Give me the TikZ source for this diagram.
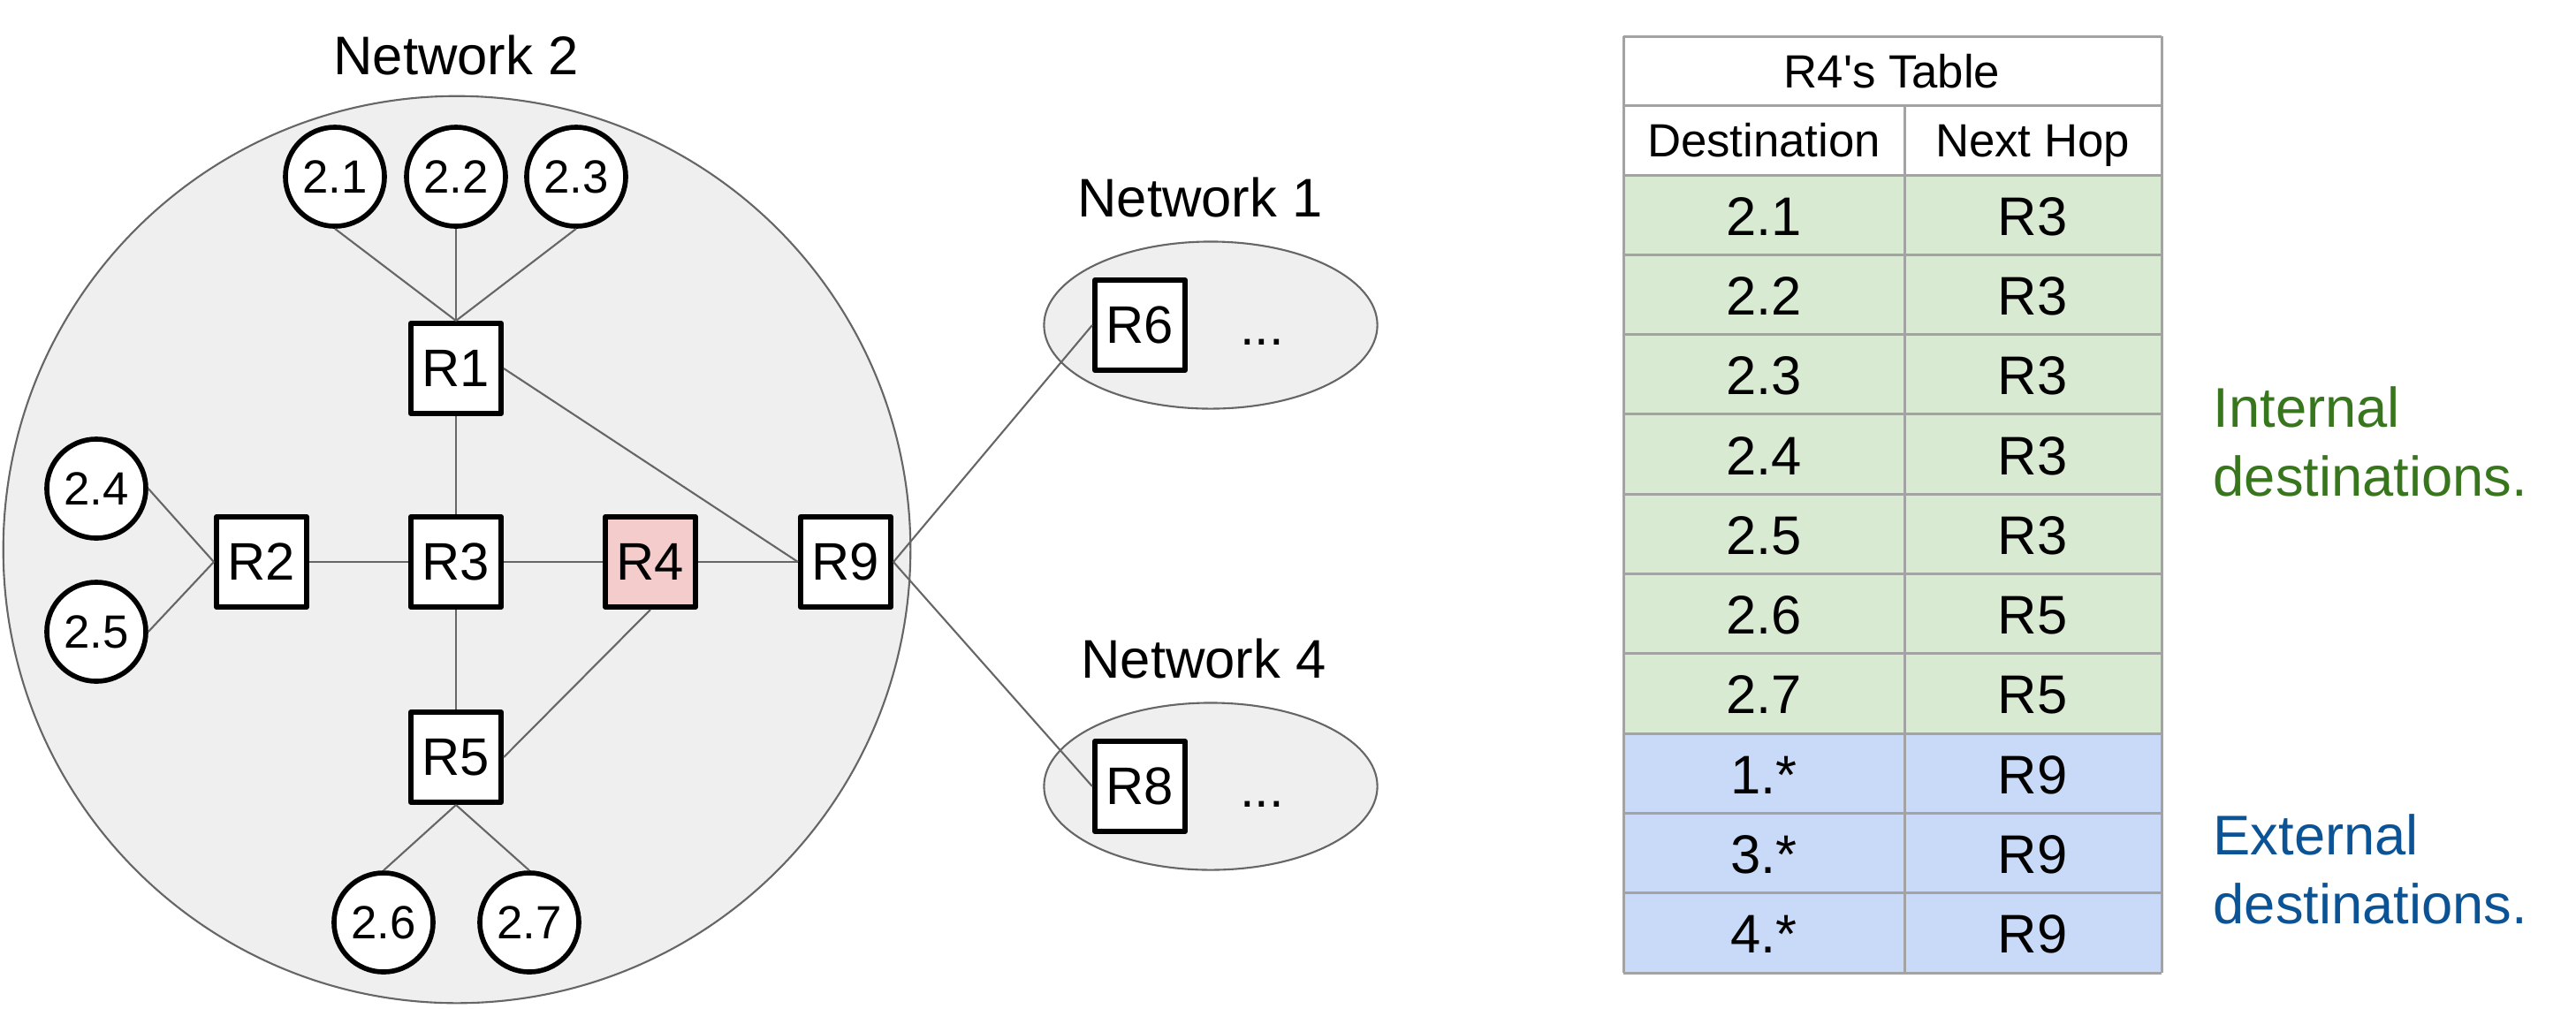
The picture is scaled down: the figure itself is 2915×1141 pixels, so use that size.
\documentclass[tikz,border=0pt]{standalone}
\usepackage{fontspec}
\setmainfont{Liberation Sans}
\usetikzlibrary{shapes.geometric}

\definecolor{netfill}{HTML}{EFEFEF}
\definecolor{netedge}{HTML}{666666}
\definecolor{linkgray}{HTML}{666666}
\definecolor{ownfill}{HTML}{F4CCCC}
\definecolor{gridgray}{HTML}{A3A3A3}
\definecolor{intfill}{HTML}{D9EAD3}
\definecolor{extfill}{HTML}{C9DAF8}
\definecolor{inttext}{HTML}{38761D}
\definecolor{exttext}{HTML}{0B5394}

\begin{document}
\begin{tikzpicture}[
    x=0.01cm, y=-0.01cm,
    network/.style={draw=netedge, fill=netfill, line width=0.6pt, inner sep=0pt},
    netlabel/.style={anchor=base, font=\fontsize{17.5}{21}\selectfont},
    router/.style={draw, line width=1.7pt, line join=round, fill=white,
        minimum size=1.02cm, inner sep=0pt, font=\fontsize{17}{20}\selectfont},
    host/.style={circle, draw, line width=1.6pt, fill=white,
        minimum size=1.12cm, inner sep=0pt, font=\fontsize{15}{18}\selectfont},
    link/.style={draw=linkgray, line width=0.6pt},
    grid/.style={draw=gridgray, line width=0.85pt},
    cell/.style={anchor=base, font=\fontsize{17.5}{21}\selectfont},
    head/.style={anchor=base, font=\fontsize{15}{18}\selectfont},
    note/.style={anchor=north west, align=left, inner sep=0pt,
        font=\fontsize{18}{22.2}\selectfont}
]
    \useasboundingbox (0,0) rectangle (2915,1141);

    % network 2
    \node[network, circle, minimum size=10.26cm] (net2) at (517,622) {};
    \node[netlabel] (net2label) at (516,84) {Network 2};

    % network 1 and network 4
    \node[network, ellipse, minimum width=3.77cm, minimum height=1.89cm]
        (net1) at (1370,368) {};
    \node[netlabel] (net1label) at (1358,245) {Network 1};
    \node[network, ellipse, minimum width=3.77cm, minimum height=1.89cm]
        (net4) at (1370,890) {};
    \node[netlabel] (net4label) at (1362,767) {Network 4};

    % routers
    \node[router] (r1) at (516,417) {R1};
    \node[router] (r2) at (296,636) {R2};
    \node[router] (r3) at (516,636) {R3};
    \node[router, fill=ownfill] (r4) at (736,636) {R4};
    \node[router] (r9) at (957,636) {R9};
    \node[router] (r5) at (516,857) {R5};
    \node[router] (r6) at (1290,368) {R6};
    \node[router] (r8) at (1290,890) {R8};

    \node[anchor=base, font=\fontsize{17}{20}\selectfont] (more1) at (1428,390) {...};
    \node[anchor=base, font=\fontsize{17}{20}\selectfont] (more4) at (1428,913) {...};

    % hosts
    \node[host] (h21) at (379,200) {2.1};
    \node[host] (h22) at (516,200) {2.2};
    \node[host] (h23) at (652,200) {2.3};
    \node[host] (h24) at (109,553) {2.4};
    \node[host] (h25) at (109,715) {2.5};
    \node[host] (h26) at (434,1044) {2.6};
    \node[host] (h27) at (599,1044) {2.7};

    % links
    \foreach \h in {h21,h22,h23}
        \draw[link] (\h.south) -- (r1.north);
    \foreach \h in {h24,h25}
        \draw[link] (\h.east) -- (r2.west);
    \foreach \h in {h26,h27}
        \draw[link] (r5.south) -- (\h.north);
    \draw[link]
        (r2) --
        (r3) --
        (r4) --
        (r9);
    \draw[link]
        (r1) --
        (r3) --
        (r5);
    \draw[link] (r1.east) -- (r9.west);
    \draw[link] (r4.south) -- (r5.east);
    \draw[link] (r9.east) -- (r6.west);
    \draw[link] (r9.east) -- (r8.west);

    % table
    \fill[intfill] (1837,198) rectangle (2446,830);
    \fill[extfill] (1837,830) rectangle (2446,1101);
    \foreach \y in {41,119}
        \draw[grid] (1837,\y) -- (2446,\y);
    \foreach \i in {0,...,10}
        \draw[grid] (1837,{198+90.3*\i}) -- (2446,{198+90.3*\i});
    \draw[grid] (1837,41) -- (1837,1101);
    \draw[grid] (2446,41) -- (2446,1101);
    \draw[grid] (2155,119) -- (2155,1101);

    \node[head] (title) at (2141,99) {R4\textquotesingle s Table};
    \node[head] (dsthead) at (1996,177) {Destination};
    \node[head] (hophead) at (2300,177) {Next Hop};
    \foreach \dst/\hop [count=\i] in {2.1/R3,2.2/R3,2.3/R3,2.4/R3,2.5/R3,
            2.6/R5,2.7/R5,1.*/R9,3.*/R9,4.*/R9} {
        \node[cell] (dst\i) at (1996,{198+90.3*(\i-0.5)+23}) {\dst};
        \node[cell] (hop\i) at (2300,{198+90.3*(\i-0.5)+23}) {\hop};
    }

    % notes
    \node[note, text=inttext] (internal) at (2504,437) {Internal\\destinations.};
    \node[note, text=exttext] (external) at (2504,921) {External\\destinations.};

\end{tikzpicture}
\end{document}
